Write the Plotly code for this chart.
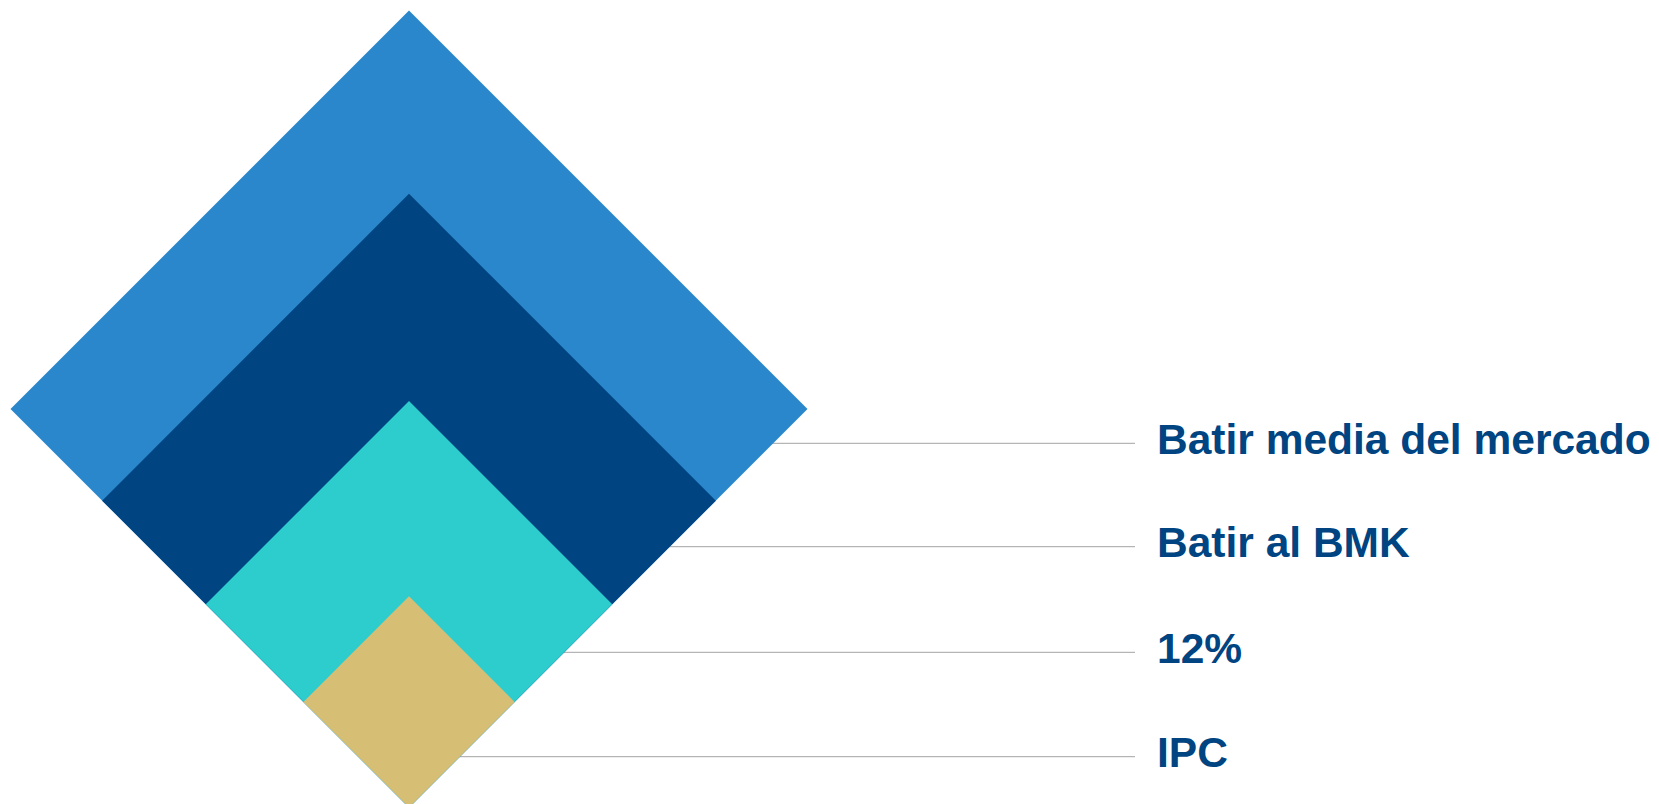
import plotly.graph_objects as go

# Objectives, from the outermost tier to the innermost
categories = ["Batir media del mercado", "Batir al BMK", "12%", "IPC"]
# Relative size of each nested tier (outer tier = 100)
tier_sizes = [100, 77, 51, 26.5]
tier_colors = ["#2B87CB", "#004481", "#2DCCCD", "#D6BE75"]

# Layout geometry (pixel-like axis units)
W, H = 1659, 804
apex_x = 409          # horizontal centre of the nested diamonds
base_y = 807.5        # shared bottom vertex
outer_half = 398.5    # half-diagonal of the outer diamond
leader_y = [443.3, 546.7, 652.3, 756.7]
leader_end_x = 1135
label_x = 1155
label_dy = -4

fig = go.Figure()

# Leader lines sit underneath the diamonds so they appear to start at the edge
for y in leader_y:
    fig.add_trace(go.Scatter(
        x=[apex_x, leader_end_x], y=[y, y], mode="lines",
        line=dict(color="#A3A3A3", width=1),
        hoverinfo="skip", showlegend=False,
    ))

# Nested diamonds sharing the bottom vertex, biggest first
for name, size, color in zip(categories, tier_sizes, tier_colors):
    h = outer_half * size / 100.0
    xs = [apex_x, apex_x + h, apex_x, apex_x - h, apex_x]
    ys = [base_y, base_y - h, base_y - 2 * h, base_y - h, base_y]
    fig.add_trace(go.Scatter(
        x=xs, y=ys, mode="lines", fill="toself",
        fillcolor=color, line=dict(width=0, color=color),
        name=name, hoverinfo="name", showlegend=False,
    ))

for name, y in zip(categories, leader_y):
    fig.add_annotation(
        x=label_x, y=y + label_dy, text=f"<b>{name}</b>",
        xref="x", yref="y", xanchor="left", yanchor="middle",
        showarrow=False,
        font=dict(family="Liberation Sans, Arial, sans-serif", size=42.5, color="#004481"),
    )

fig.update_layout(
    width=W, height=H,
    margin=dict(l=0, r=0, t=0, b=0),
    paper_bgcolor="white", plot_bgcolor="white",
    xaxis=dict(range=[0, W], visible=False, fixedrange=True),
    yaxis=dict(range=[H, 0], visible=False, fixedrange=True),
    showlegend=False,
)

fig.write_html("out.html", config={"displayModeBar": False})
